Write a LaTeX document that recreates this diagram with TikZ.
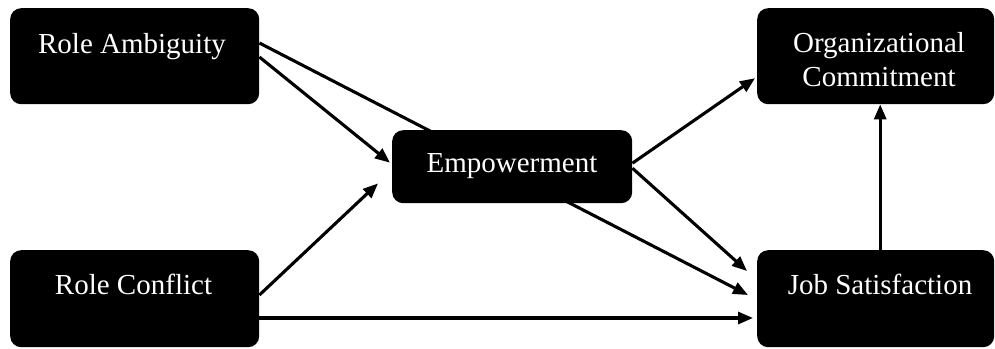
\documentclass[tikz,border=0pt]{standalone}
\usepackage{fontspec}
\setmainfont{Liberation Serif}
\usetikzlibrary{arrows.meta,calc,backgrounds}
\begin{document}
\begin{tikzpicture}[x=1pt,y=-1pt,
  box/.style={draw=none,fill=black,rounded corners=11pt,inner sep=0pt,anchor=north west},
  lbl/.style={text=white,inner sep=0pt,anchor=base,font=\fontsize{29}{34}\selectfont},
  conn/.style={line width=3.1pt,-{Triangle[length=15pt,width=12pt]}},
  plain/.style={line width=3.1pt}]
\useasboundingbox (0,0) rectangle (995,348);
% boxes
\node[box,minimum width=249pt,minimum height=96pt] (ra) at (10,8) {};
\node[box,minimum width=240pt,minimum height=73pt] (emp) at (392,130) {};
\node[box,minimum width=237pt,minimum height=96pt] (oc) at (757,8) {};
\node[box,minimum width=249pt,minimum height=97pt] (rc) at (10,250) {};
\node[box,minimum width=237pt,minimum height=97pt] (js) at (757,250) {};
% labels
\node[lbl] (ratext) at (132,53) {Role Ambiguity};
\node[lbl] (emptext) at (512,172) {Empowerment};
\node[lbl] (octext1) at (879,52) {Organizational};
\node[lbl] (octext2) at (879,86) {Commitment};
\node[lbl] (rctext) at (133.5,294) {Role Conflict};
\node[lbl] (jstext) at (880,294) {Job Satisfaction};
% connectors
\begin{scope}[on background layer]
\draw[conn] ($(ra.north east)+(0,35)$) -- ($(js.north west)+(-9,45)$);
\end{scope}
\draw[conn] ($(ra.north east)+(0,49)$) -- ($(emp.west)+(-2,-4)$);
\draw[conn] ($(rc.north east)+(0,45)$) -- ($(emp.south west)+(-14,-20)$);
\draw[conn] ($(rc.north east)+(0,68)$) -- ($(js.north west)+(-4,68)$);
\draw[conn] ($(emp.east)+(0,-3.5)$) -- ($(oc.west)+(-2,22)$);
\draw[conn] ($(emp.east)+(0,1.5)$) -- ($(js.north west)+(-10,21)$);
\draw[conn] ($(js.north)+(4.5,0)$) -- ($(oc.south)+(4.5,0)$);
\end{tikzpicture}
\end{document}
